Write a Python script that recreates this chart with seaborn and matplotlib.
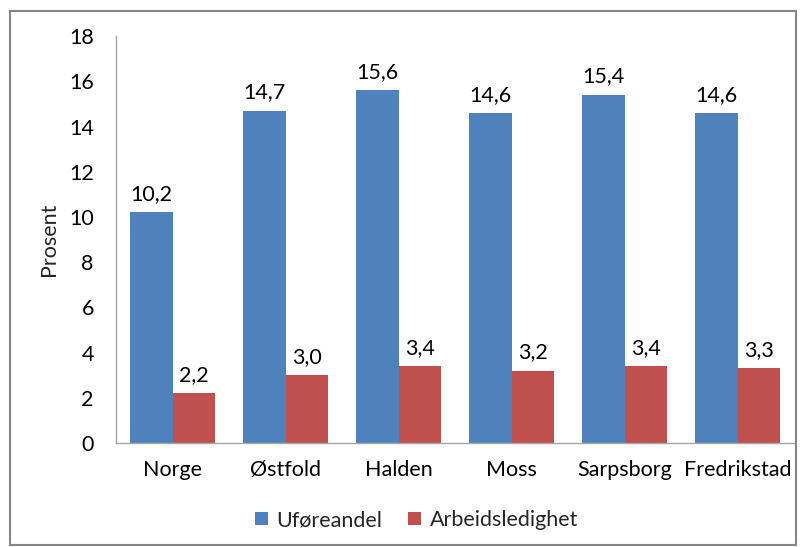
import matplotlib
matplotlib.use("Agg")
import matplotlib.pyplot as plt
import seaborn as sns
import pandas as pd
from matplotlib.patches import Rectangle

categories = ["Norge", "Østfold", "Halden", "Moss", "Sarpsborg", "Fredrikstad"]
uforeandel = [10.2, 14.7, 15.6, 14.6, 15.4, 14.6]
arbeidsledighet = [2.2, 3.0, 3.4, 3.2, 3.4, 3.3]
series_names = ["Uføreandel", "Arbeidsledighet"]
colors = ["#4F81BD", "#C0504D"]
yticks = [0, 2, 4, 6, 8, 10, 12, 14, 16, 18]

df = pd.DataFrame({
    "Kategori": categories * 2,
    "Serie": [series_names[0]] * len(categories) + [series_names[1]] * len(categories),
    "Verdi": uforeandel + arbeidsledighet,
})

sns.set_theme(style="white")
plt.rcParams['font.family'] = ['Lato', 'DejaVu Sans']
FS = 15.5

fig = plt.figure(figsize=(8.04, 5.47), dpi=100)
ax = fig.add_axes([0.1443, 0.190, 0.8433, 0.744])

sns.barplot(data=df, x="Kategori", y="Verdi", hue="Serie", palette=colors,
            width=0.76, saturation=1, ax=ax, legend=True, order=categories,
            hue_order=series_names, linewidth=0, edgecolor="none")

for cont in ax.containers:
    labels = [f"{v:.1f}".replace(".", ",") for v in cont.datavalues]
    ax.bar_label(cont, labels=labels, padding=6, fontsize=FS, color="#000000")

ax.set_ylim(0, 18)
ax.set_yticks(yticks)
ax.set_yticklabels([str(t) for t in yticks])
ax.set_xlim(-0.5, len(categories) - 0.5)
ax.set_xlabel("")
ax.set_ylabel("Prosent", fontsize=FS, labelpad=7)
ax.tick_params(axis="both", length=0, labelsize=FS, colors="#000000")
ax.tick_params(axis="y", pad=16)
ax.tick_params(axis="x", pad=12)

for s in ["top", "right"]:
    ax.spines[s].set_visible(False)
for s in ["left", "bottom"]:
    ax.spines[s].set_color("#A6A6A6")
    ax.spines[s].set_linewidth(1.0)

leg = ax.legend(loc="center", bbox_to_anchor=(0.518, 0.049), bbox_transform=fig.transFigure,
                ncol=2, frameon=False, fontsize=FS, handlelength=0.6, handleheight=0.6,
                handletextpad=0.4, columnspacing=1.2)

fig.patches.append(Rectangle((10 / 804, 2 / 547), 786 / 804, 534 / 547, transform=fig.transFigure,
                             fill=False, edgecolor="#868686", linewidth=1.5))

fig.savefig("out.png", dpi=100)
